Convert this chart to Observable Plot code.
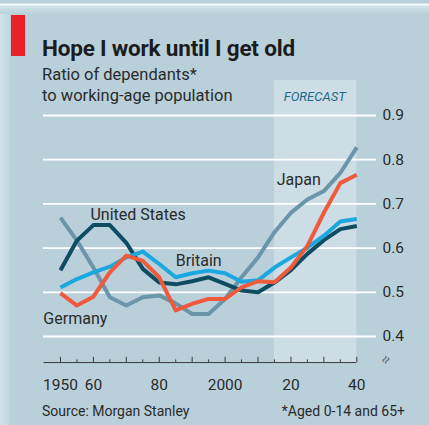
<!DOCTYPE html>
<html>
<head>
<meta charset="utf-8">
<script src="https://cdn.jsdelivr.net/npm/d3@7"></script>
<script src="https://cdn.jsdelivr.net/npm/@observablehq/plot@0.6"></script>
<style>
  html, body { margin: 0; padding: 0; background: #b9d0db; }
  #chart { position: relative; width: 429px; height: 425px; overflow: hidden; background: #b9d0db; font-family: Roboto, "Open Sans", sans-serif; color: #2a2a2a; }
  #chart svg { position: absolute; left: 0; top: 0; }
  .band-left { position: absolute; left: 0; top: 0; width: 10px; height: 425px; background: linear-gradient(to right, #d0e1e9, #c2d7e1); }
  .band-top { position: absolute; left: 0; top: 0; width: 429px; height: 14px; background: linear-gradient(to bottom, #b7cfd9 0px, #b7cfd9 3px, #f4f8fa 4px, #f4f8fa 5px, #d2e3eb 6px, #b9d0db 14px); }
  .redbar { position: absolute; left: 11px; top: 15px; width: 14px; height: 41px; background: #e8202a; }
  .txt { position: absolute; white-space: nowrap; }
  .title { left: 42px; top: 37px; font-size: 22.5px; line-height: 22.5px; font-weight: 700; color: #1c1c1c; letter-spacing: -0.2px; }
  .subtitle { left: 42px; top: 64px; font-size: 16.5px; line-height: 21px; color: #2a2a2a; }
  .source { left: 42px; top: 404px; font-size: 14px; line-height: 14px; color: #2a2a2a; }
  .note { right: 24px; top: 404px; font-size: 14px; line-height: 14px; color: #2a2a2a; }
</style>
</head>
<body>
<div id="chart">
  <div class="band-left"></div>
  <div class="band-top"></div>
</div>
<script>
const years = [1950, 1955, 1960, 1965, 1970, 1975, 1980, 1985, 1990, 1995, 2000, 2005, 2010, 2015, 2020, 2025, 2030, 2035, 2040];
const unitedStates = [0.550, 0.617, 0.652, 0.652, 0.612, 0.553, 0.522, 0.518, 0.525, 0.534, 0.519, 0.504, 0.500, 0.522, 0.550, 0.587, 0.618, 0.643, 0.650];
const japan = [0.669, 0.617, 0.556, 0.489, 0.470, 0.489, 0.493, 0.475, 0.451, 0.451, 0.485, 0.534, 0.579, 0.636, 0.680, 0.710, 0.729, 0.770, 0.828];
const britain = [0.511, 0.530, 0.545, 0.558, 0.579, 0.592, 0.564, 0.534, 0.543, 0.549, 0.543, 0.524, 0.527, 0.556, 0.579, 0.601, 0.628, 0.660, 0.666];
const germany = [0.498, 0.470, 0.490, 0.545, 0.583, 0.571, 0.534, 0.459, 0.474, 0.485, 0.485, 0.511, 0.525, 0.523, 0.556, 0.605, 0.680, 0.747, 0.766];

const seriesNames = ["Japan", "United States", "Britain", "Germany"];
const seriesValues = [japan, unitedStates, britain, germany];
const seriesColors = ["#6b95a8", "#0e4c62", "#1ba8de", "#ef5a3c"];

const yTicks = [0.4, 0.5, 0.6, 0.7, 0.8, 0.9];
const xTickYears = [1950, 1955, 1960, 1965, 1970, 1975, 1980, 1985, 1990, 1995, 2000, 2005, 2010, 2015, 2020, 2025, 2030, 2035, 2040];
const xLabelYears = [1950, 1960, 1980, 2000, 2020, 2040];
const xLabelTexts = ["1950", "60", "80", "2000", "20", "40"];
const forecastStart = 2015;
const forecastEnd = 2040;

const labels = [
  {text: "United States", x: 1959.1, y: 0.676},
  {text: "Britain", x: 1985.0, y: 0.572},
  {text: "Japan", x: 2015.7, y: 0.755},
  {text: "Germany", x: 1944.8, y: 0.441}
];

const rows = [];
seriesNames.forEach((name, i) => {
  years.forEach((yr, j) => rows.push({country: name, year: yr, value: seriesValues[i][j]}));
});
const xLabelMap = new Map(xLabelYears.map((y, i) => [y, xLabelTexts[i]]));

const axisBase = 0.341;

const plot = Plot.plot({
  width: 429,
  height: 425,
  marginTop: 115, marginRight: 53, marginBottom: 63, marginLeft: 43,
  x: {domain: [1945, 2040], range: [43.5, 356.3]},
  y: {domain: [0.4, 0.9], range: [336, 115]},
  color: {domain: seriesNames, range: seriesColors},
  style: {background: "transparent", fontFamily: "Roboto, 'Open Sans', sans-serif", overflow: "visible", color: "#2a2a2a"},
  marks: [
    Plot.rect([0], {x1: forecastStart, x2: forecastEnd, y1: 0.3385, y2: 0.979, fill: "#ffffff", fillOpacity: 0.28}),
    Plot.gridY(yTicks, {stroke: "#ffffff", strokeOpacity: 1, strokeWidth: 1.8}),
    Plot.axisY(yTicks, {anchor: "right", tickSize: 0, tickPadding: 6, tickFormat: d => d.toFixed(1), fontSize: 15.5, fill: "#2a2a2a", label: null}),
    Plot.ruleY([axisBase], {x1: 1945, x2: 2040, stroke: "#3a3a3a", strokeWidth: 1}),
    Plot.ruleX(xTickYears, {x: d => d, y1: axisBase, y2: d => axisBase + (d % 10 === 0 ? 0.012 : 0.006), stroke: "#3a3a3a", strokeWidth: 1}),
    Plot.axisX(xLabelYears, {anchor: "bottom", tickSize: 0, tickPadding: 16, tickFormat: d => xLabelMap.get(d), fontSize: 15.5, fill: "#2a2a2a", label: null}),
    Plot.text(["≈"], {x: 2040, y: axisBase, dx: 29, dy: -3, rotate: -60, fontSize: 15, fill: "#5f6f78"}),
    Plot.text(["FORECAST"], {x: 2017.8, y: 0.943, textAnchor: "start", fontSize: 13, fontStyle: "italic", fill: "#1e6a86"}),
    Plot.line(rows, {x: "year", y: "value", z: "country", stroke: "country", strokeWidth: 4, strokeLinejoin: "round", strokeLinecap: "butt"}),
    Plot.text(labels, {x: "x", y: "y", text: "text", textAnchor: "start", fontSize: 16, fill: "#2a2a2a"})
  ]
});

const chart = document.getElementById("chart");
chart.appendChild(plot);

function addText(cls, html) {
  const d = document.createElement("div");
  d.className = "txt " + cls;
  d.innerHTML = html;
  chart.appendChild(d);
}
const bar = document.createElement("div");
bar.className = "redbar";
chart.appendChild(bar);
addText("title", "Hope I work until I get old");
addText("subtitle", "Ratio of dependants*<br>to working-age population");
addText("source", "Source: Morgan Stanley");
addText("note", "*Aged 0-14 and 65+");
</script>
</body>
</html>
